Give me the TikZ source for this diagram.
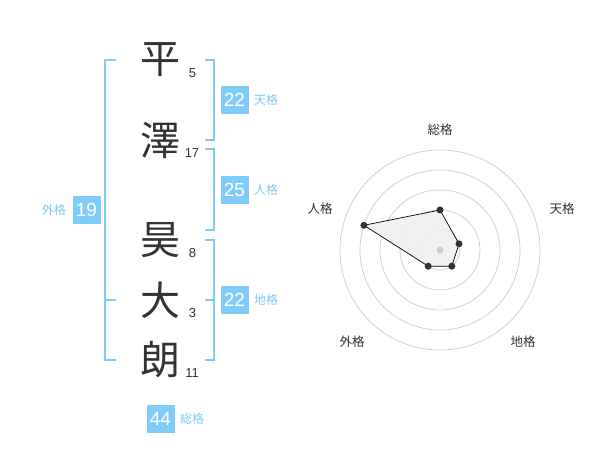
\documentclass[tikz,border=0pt]{standalone}
\usepackage{fontspec}
\setmainfont{Liberation Sans}
\newfontfamily\cjk{Noto Sans CJK JP}
\definecolor{bblue}{HTML}{80CCF8}
\definecolor{lblue}{HTML}{7FC8F0}
\definecolor{ink}{HTML}{333333}
\definecolor{ring}{HTML}{CCCCCC}
\tikzset{
  bracket/.style={draw=bblue, line width=1.6pt},
  numbox/.style={fill=bblue, text=white, minimum size=28pt, inner sep=0pt, font=\fontsize{19}{19}\selectfont},
  kaku/.style={text=lblue, font=\cjk\fontsize{12}{12}\selectfont, anchor=west, inner sep=0pt},
  kanji/.style={text=ink, font=\cjk\fontsize{40}{40}\selectfont, inner sep=0pt},
  stroke/.style={text=ink, font=\fontsize{13}{13}\selectfont, inner sep=0pt},
  rlabel/.style={text=ink, font=\cjk\fontsize{12.5}{12.5}\selectfont, inner sep=0pt},
  ringline/.style={draw=ring, line width=0.7pt},
  pt/.style={circle, fill=ink, minimum size=7pt, inner sep=0pt},
}
\begin{document}
\begin{tikzpicture}[x=1pt,y=-1pt]
\useasboundingbox (0,0) rectangle (600,470);
% brackets
\draw[bracket] (116,60) -- (105,60) -- (105,360) -- (116,360);
\draw[bracket] (105,300) -- (116,300);
\draw[bracket] (205,60) -- (214,60) -- (214,140) -- (205,140);
\draw[bracket] (205,149) -- (214,149) -- (214,230) -- (205,230);
\draw[bracket] (205,240) -- (214,240) -- (214,360) -- (205,360);
\draw[bracket] (205,300) -- (214,300);
% kanji
\node[kanji] (k1) at (160,60) {平};
\node[kanji] (k2) at (160,140) {澤};
\node[kanji] (k3) at (160,240) {昊};
\node[kanji] (k4) at (160,300) {大};
\node[kanji] (k5) at (160,360) {朗};
\node[stroke] (s1) at (192.5,73) {5};
\node[stroke] (s2) at (192,153) {17};
\node[stroke] (s3) at (192.5,253) {8};
\node[stroke] (s4) at (192.5,313) {3};
\node[stroke] (s5) at (192,373) {11};
% boxes
\node[numbox] (ten) at (234.5,100) {22};
\node[kaku] (tenl) at (254,100) {天格};
\node[numbox] (jin) at (234.5,190) {25};
\node[kaku] (jinl) at (254,190) {人格};
\node[numbox] (chi) at (234.5,300) {22};
\node[kaku] (chil) at (254,300) {地格};
\node[numbox] (gai) at (86.5,210) {19};
\node[kaku, anchor=east] (gail) at (66,210) {外格};
\node[numbox] (sou) at (160.5,419) {44};
\node[kaku] (soul) at (180,419) {総格};
% radar
\coordinate (c) at (440,250);
\foreach \r in {20,40,60,80,100} \draw[ringline] (c) circle (\r pt);
\coordinate (p1) at (440,210);
\coordinate (p2) at (459.0,243.8);
\coordinate (p3) at (451.8,266.2);
\coordinate (p4) at (428.2,266.2);
\coordinate (p5) at (363.9,225.3);
\filldraw[fill=black!6, fill opacity=0.9, draw=black, line width=0.7pt] (p1) -- (p2) -- (p3) -- (p4) -- (p5) -- cycle;
\node[circle, fill=ring, minimum size=7pt, inner sep=0pt] (cd) at (c) {};
\foreach \i in {1,...,5} \node[pt] (d\i) at (p\i) {};
\node[rlabel] (r1) at (440,130) {総格};
\node[rlabel] (r2) at (562,209) {天格};
\node[rlabel] (r3) at (523,342) {地格};
\node[rlabel] (r4) at (352,342) {外格};
\node[rlabel] (r5) at (320,209) {人格};
\end{tikzpicture}
\end{document}
